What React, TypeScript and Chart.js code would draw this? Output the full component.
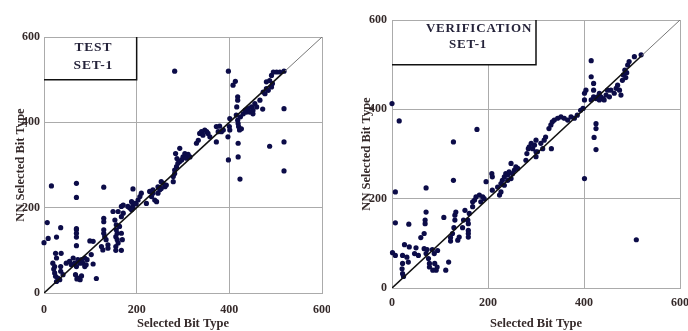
import React, { useEffect, useRef } from "react";
import { Chart, registerables } from "chart.js";
Chart.register(...registerables);

// ---------- data ----------
const axisTicks = [0, 200, 400, 600];

const diagBlackX = [0, 520];
const diagBlackY = [0, 520];
const diagGrayX = [520, 600];
const diagGrayY = [520, 600];

const testX = [
  282, 398, 16, 70, 70, 129, 192, 7, 0, 9, 36, 27, 70, 70, 70, 70, 70, 113, 99, 106, 102,
  19, 23, 25, 27, 21, 23, 25, 30, 37, 36, 36, 41, 48, 55, 59, 63, 66, 73, 70, 77, 68, 71, 75, 78, 81, 84, 88, 91, 88, 81, 93, 27, 34,
  129, 129, 129, 129, 131, 134, 127, 124, 138, 138, 106,
  153, 156, 156, 158, 155, 158, 160, 155, 155, 163, 167, 167, 169, 171, 167, 171, 149, 167, 160,
  189, 192, 196, 199, 192, 185, 189, 181, 203,
  207, 210, 221, 228, 232, 235, 239, 243, 246, 250, 253, 257, 261, 253, 264, 246, 235,
  279, 282, 279, 284, 286, 289, 293, 297, 293, 300, 304, 307, 311, 315, 282, 287,
  329, 336, 340, 343, 347, 351, 354, 358, 333, 372, 372, 379, 376, 383, 387,
  397, 400, 401, 401, 398,
  408, 413, 418, 418, 416, 418, 419, 420, 422, 419, 419, 423, 424, 426, 415,
  430, 434, 437, 441, 444, 448, 451, 455, 459, 451, 472, 466, 473, 477, 480, 484, 480, 487, 491, 495, 502, 509, 518, 487, 518, 518, 518, 491, 493,
];
const testY = [
  520, 520, 251, 257, 224, 248, 244, 165, 118, 128, 153, 131, 151, 148, 140, 131, 111, 34, 122, 68, 90,
  70, 62, 93, 82, 56, 47, 39, 35, 93, 62, 51, 43, 70, 74, 66, 82, 70, 78, 62, 70, 43, 33, 35, 31, 40, 70, 62, 66, 82, 78, 78, 27, 31,
  140, 167, 175, 148, 132, 125, 101, 109, 113, 105, 121,
  171, 160, 148, 140, 132, 125, 117, 109, 100, 156, 140, 100, 125, 187, 203, 206, 191, 179, 191,
  214, 206, 210, 209, 199, 199, 195, 203, 218,
  226, 234, 210, 238, 226, 242, 218, 214, 234, 242, 245, 257, 249, 261, 253, 249, 234,
  273, 280, 261, 327, 296, 304, 308, 312, 339, 319, 327, 316, 325, 319, 288, 315,
  351, 374, 378, 370, 382, 378, 374, 366, 358, 354, 390, 391, 378, 378, 382,
  366, 390, 409, 382, 312,
  487, 496, 460, 452, 436, 405, 397, 390, 382, 351, 319, 267, 413, 385, 417,
  420, 428, 424, 432, 424, 436, 428, 444, 436, 420, 431, 452, 471, 467, 479, 475, 495, 498, 510, 518, 518, 518, 520, 344, 432, 354, 286, 483, 491,
];

const verX = [
  0, 15, 7, 128, 177, 128, 71, 108, 401, 509, 415, 415, 420, 420, 425, 425, 421, 425,
  7, 35, 1, 7, 26, 36, 22, 22, 21, 22, 24, 31, 34, 50, 47, 55, 60, 67, 69, 71, 69, 67, 71, 73, 76, 78, 78, 84, 88, 89, 92, 94, 95, 85, 112, 118,
  122, 122, 126, 129, 131, 131, 133, 137, 140, 147, 149, 152, 158, 159, 159, 159, 159, 161, 168, 172, 168, 175, 182, 185, 189, 192, 196, 208, 209, 209,
  220, 227, 230, 234, 237, 241, 244, 248, 251, 255, 258, 262, 234, 227, 248, 241, 224,
  279, 281, 284, 286, 290, 293, 297, 300, 300, 303, 310, 314, 317, 320, 332, 300,
  327, 331, 334, 338, 345, 352, 359, 366, 373, 380, 386, 393, 398, 401, 401, 404,
  415, 420, 425, 428, 432, 435, 439, 446, 449, 453, 456, 463, 467, 470, 474, 477, 480, 482, 485, 491, 494, 505, 519, 487, 489, 432, 442,
];
const verY = [
  413, 374, 215, 327, 355, 241, 224, 158, 245, 108, 509, 473, 458, 443, 368, 357, 337, 310,
  146, 143, 79, 73, 97, 92, 73, 55, 43, 32, 26, 69, 58, 90, 77, 73, 113, 122, 152, 170, 144, 88, 77, 86, 66, 55, 47, 86, 77, 55, 40, 47, 84, 40, 40, 58,
  105, 113, 122, 135, 152, 163, 170, 107, 114, 135, 152, 174, 152, 144, 129, 122, 114, 167, 182, 197, 193, 204, 208, 193, 204, 200, 238, 256, 249, 219,
  226, 234, 241, 249, 256, 253, 260, 279, 256, 264, 271, 268, 230, 215, 245, 241, 208,
  286, 301, 312, 316, 324, 312, 320, 331, 294, 305, 324, 312, 331, 338, 312, 305,
  357, 365, 372, 376, 380, 383, 380, 376, 383, 380, 387, 398, 402, 421, 436, 443,
  421, 428, 424, 428, 436, 428, 424, 432, 443, 428, 443, 436, 447, 454, 443, 432, 465, 477, 488, 499, 507, 518, 522, 471, 482, 421, 421,
];

const xTitle = "Selected Bit Type";
const yTitle = "NN Selected Bit Type";
const testLabel = ["TEST", "SET-1"];
const verLabel = ["VERIFICATION", "SET-1"];

// ---------- styling ----------
const SERIF = "'Liberation Serif', 'Times New Roman', serif";
const POINT = "#0c0c48";
const TEXT = "#352a2a";
const GRID = "#ababab";

const pts = (xs: number[], ys: number[]) => xs.map((x, i) => ({ x, y: ys[i] }));

const boxPlugin = {
  id: "setBox",
  afterDatasetsDraw(chart: any, _a: any, o: any) {
    const { ctx } = chart;
    const sx = chart.scales.x;
    const sy = chart.scales.y;
    const l = sx.getPixelForValue(0);
    const r = sx.getPixelForValue(o.xMax);
    const t = sy.getPixelForValue(600);
    const b = sy.getPixelForValue(o.yMin);
    ctx.save();
    ctx.fillStyle = "#ffffff";
    ctx.fillRect(l + 1, t + 1, r - l - 1, b - t - 1);
    ctx.strokeStyle = "#111";
    ctx.lineWidth = 1.5;
    ctx.beginPath();
    ctx.moveTo(l, b);
    ctx.lineTo(r, b);
    ctx.lineTo(r, t);
    ctx.stroke();
    ctx.fillStyle = "#25233a";
    ctx.font = `bold ${o.fontSize}px ${SERIF}`;
    ctx.textAlign = "center";
    ctx.textBaseline = "middle";
    try { (ctx as any).letterSpacing = o.spacing + "px"; } catch (e) {}
    o.lines.forEach((txt: string, i: number) => {
      ctx.fillText(txt, (l + r) / 2 + o.dx[i], t + o.dy[i]);
    });
    ctx.restore();
  },
};

type P = {
  left: number; width: number; xs: number[]; ys: number[];
  padTop: number; padRight: number; yW: number; xH: number;
  xTickPad: number; yTickPad: number; yTitlePad: number;
  box: any;
};

function ScatterPanel(p: P) {
  const ref = useRef<HTMLCanvasElement>(null);
  useEffect(() => {
    const chart = new Chart(ref.current as HTMLCanvasElement, {
      type: "scatter",
      data: {
        datasets: [
          { type: "line", data: pts(diagBlackX, diagBlackY), borderColor: "#111", borderWidth: 1.6, pointRadius: 0, fill: false } as any,
          { type: "line", data: pts(diagGrayX, diagGrayY), borderColor: "#777", borderWidth: 1, pointRadius: 0, fill: false } as any,
          { data: pts(p.xs, p.ys), backgroundColor: POINT, borderColor: POINT, borderWidth: 0, pointRadius: 2.6, clip: 6 } as any,
        ],
      },
      options: {
        animation: false,
        responsive: false,
        layout: { padding: { top: p.padTop, right: p.padRight, left: 0, bottom: 0 } },
        plugins: { legend: { display: false }, tooltip: { enabled: false }, setBox: p.box } as any,
        scales: {
          x: {
            type: "linear", min: 0, max: 600,
            afterBuildTicks: (s: any) => { s.ticks = axisTicks.map((v) => ({ value: v })); },
            afterFit: (s: any) => { s.height = p.xH; s.paddingLeft = 0; s.paddingRight = 0; },
            grid: { color: GRID, lineWidth: 1, drawTicks: false },
            border: { color: GRID },
            ticks: { padding: p.xTickPad, color: TEXT, font: { family: SERIF, size: 12, weight: "bold" }, maxRotation: 0 },
            title: { display: true, text: xTitle, color: TEXT, font: { family: SERIF, size: 12.5, weight: "bold" }, padding: { top: 0, bottom: 0 } },
          },
          y: {
            type: "linear", min: 0, max: 600,
            afterBuildTicks: (s: any) => { s.ticks = axisTicks.map((v) => ({ value: v })); },
            afterFit: (s: any) => { s.width = p.yW; s.paddingTop = 0; s.paddingBottom = 0; },
            grid: { color: GRID, lineWidth: 1, drawTicks: false },
            border: { color: GRID },
            ticks: { padding: p.yTickPad, color: TEXT, font: { family: SERIF, size: 12, weight: "bold" } },
            title: { display: true, text: yTitle, color: TEXT, font: { family: SERIF, size: 12.5, weight: "bold" }, padding: { top: p.yTitlePad, bottom: 0 } },
          },
        },
      } as any,
      plugins: [boxPlugin as any],
    });
    return () => chart.destroy();
  }, []);
  return (
    <canvas
      ref={ref}
      width={p.width}
      height={331}
      style={{ position: "absolute", left: p.left, top: 0, width: p.width, height: 331 }}
    />
  );
}

export default function App() {
  return (
    <div style={{ position: "absolute", left: 0, top: 0, width: 688, height: 331, background: "#fff", overflow: "hidden" }}>
      <ScatterPanel
        left={0} width={330} xs={testX} ys={testY}
        padTop={37} padRight={8} yW={44} xH={38}
        xTickPad={10} yTickPad={4} yTitlePad={13}
        box={{ xMax: 200, yMin: 500, lines: testLabel, dx: [3, 3], dy: [10.5, 28.5], fontSize: 13.5, spacing: 0.8 }}
      />
      <ScatterPanel
        left={344} width={344} xs={verX} ys={verY}
        padTop={20} padRight={8} yW={48} xH={43}
        xTickPad={8} yTickPad={5} yTitlePad={15}
        box={{ xMax: 300, yMin: 500, lines: verLabel, dx: [15, 4], dy: [8.5, 25], fontSize: 13, spacing: 0.8 }}
      />
    </div>
  );
}
